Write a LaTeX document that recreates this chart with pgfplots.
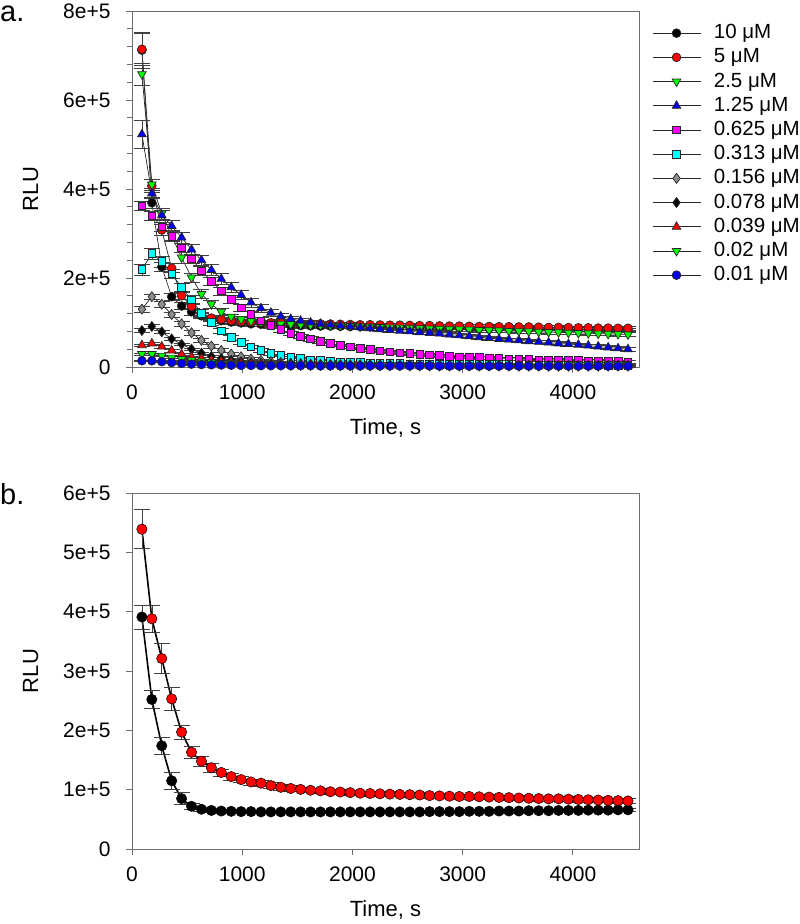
\documentclass[border=0pt]{standalone}
\usepackage{fontspec}
\setmainfont{Liberation Sans}
\usepackage{pgfplots}
\usepackage{pgfplotstable}
\pgfplotsset{compat=1.18}

\definecolor{cRed}{RGB}{255,0,0}
\definecolor{cGreen}{RGB}{0,255,0}
\definecolor{cBlue}{RGB}{0,0,240}
\definecolor{cMag}{RGB}{255,0,255}
\definecolor{cCyan}{RGB}{0,255,255}
\definecolor{cGray}{RGB}{140,140,140}
\definecolor{cFrame}{RGB}{110,110,110}

% panel a: values in units of 1000 RLU
\pgfplotstableread{
t a1 a2 a3 a4 a5 a6 a7 a8 a9 a10 a11 e1 e2 e3 e4 e5 e6 e7 e8 e9 e10 e11
90 712 714 658 523 362 219 130 82 49 29 14 40 35 25 32 10 12 6 4 3 2 2
180 369 407 410 390 340 255 158 91 53 29 14 12 15 12 12 10 12 6 4 3 2 2
270 225 308 345 341 315 237 141 79 46 25 12 10 12 12 12 10 12 6 4 3 2 2
360 158 222 295 317 294 209 118 63 37 21 10 8 10 12 12 10 10 6 4 3 2 2
450 137 160 246 291 268 179 97 51 29 18 8 8 8 12 12 10 10 5 3 2 2 2
540 124 136 201 264 243 151 77 40 23 15 6.5 7 7 10 12 10 9 5 3 2 2 2
630 115 118 164 240 216 121 60 31 19 12.5 5.5 6 6 10 12 10 8 5 3 2 2 2
720 108 110 141 218 193 100 47 24 15.5 10.5 5 6 6 8 12 9 7 4 3 2 2 2
810 104 107 124 198 171 81 37 19 13 9 4.5 5 5 7 12 9 6 4 2 2 2 2
900 101 104 113 179 152 66 29 15 11 8 4 5 5 6 12 8 5 4 2 2 2 2
990 99 102 107 162 133 55 23 12 9 7 3.5 5 5 6 11 8 5 3 2 1.5 2 2
1080 97 101 103 145 118 45 18 10 8 6 3.5 5 5 5 10 7 4 3 2 1.5 2 2
1170 96 100 100 132 104 37 15 8.5 7 5.5 3 5 5 5 9 7 4 3 2 1.5 2 2
1260 95 99.5 98 122 93 31 12 7 6 5 3 5 5 5 8 6 4 3 2 1.5 2 2
1350 94 99 97 114 84 26 10 6 5.5 4.5 3 5 5 5 7 6 3 3 2 1.5 2 2
1440 93.5 98.5 96 108 76 22 8.5 5.5 5 4 3 5 5 5 6 5 3 3 2 1.5 2 2
1530 93 98 95 104 69 19 7.5 5 4.5 4 3 5 5 5 6 5 3 3 2 1.5 2 2
1620 92.5 97.5 94 100 63 16.5 6.5 4.5 4.5 3.5 3 5 5 5 5 5 3 3 2 1.5 2 2
1710 92 97 93.5 97 58 14.5 6 4.5 4 3.5 2.5 5 5 5 5 4 3 3 2 1.5 2 2
1800 92 96.5 93 95 53 13 5.5 4 4 3.5 2.5 5 5 5 5 4 3 3 2 1.5 2 2
1890 91.5 96 92.5 93 49 12 5.5 4 4 3 2.5 4 4 4 4 3 2 2 2 1.5 2 2
1980 91 95.5 92 91 45 11 5 4 3.5 3 2.5 4 4 4 4 3 2 2 2 1.5 2 2
2070 91 95 91 89 42 10 5 4 3.5 3 2.5 4 4 4 4 3 2 2 2 1.5 2 2
2160 90.5 95 90.5 87 39 9.5 5 4 3.5 3 2.5 4 4 4 4 3 2 2 2 1.5 2 2
2250 90 94.5 90 85 36.5 9 5 3.5 3.5 3 2.5 4 4 4 4 3 2 2 2 1.5 2 2
2340 90 94 89 83 34 8.5 4.5 3.5 3.5 3 2.5 4 4 4 4 3 2 2 2 1.5 2 2
2430 89.5 94 88.5 81.5 32 8 4.5 3.5 3 3 2.5 4 4 4 4 3 2 2 2 1.5 2 2
2520 89.5 93.5 88 80 30 7.5 4.5 3.5 3 2.5 2.5 4 4 4 4 3 2 2 2 1.5 2 2
2610 89 93 87 78 28.5 7 4.5 3.5 3 2.5 2.5 4 4 4 4 3 2 2 2 1.5 2 2
2700 89 93 86.5 76.5 27 7 4.5 3.5 3 2.5 2.5 4 4 4 4 3 2 2 2 1.5 2 2
2790 88.5 92.5 86 75 25.5 6.5 4 3.5 3 2.5 2 4 4 4 4 3 2 2 2 1.5 2 2
2880 88.5 92 85 73 24 6.5 4 3.5 3 2.5 2 4 4 4 4 3 2 2 2 1.5 2 2
2970 88 92 84.5 71 23 6 4 3 3 2.5 2 4 4 4 4 3 2 2 2 1.5 2 2
3060 88 91.5 84 69 22 6 4 3 3 2.5 2 4 4 4 4 3 2 2 2 1.5 2 2
3150 87.5 91 83 67 21 6 4 3 3 2.5 2 4 4 4 4 3 2 2 2 1.5 2 2
3240 87.5 91 82.5 65 20 5.5 4 3 3 2.5 2 4 4 4 4 3 2 2 2 1.5 2 2
3330 87 90.5 82 63 19 5.5 4 3 3 2 2 4 4 4 4 3 2 2 2 1.5 2 2
3420 87 90.5 81 61.5 18.5 5.5 3.5 3 3 2 2 4 4 4 4 3 2 2 2 1.5 2 2
3510 86.5 90 80.5 60 18 5 3.5 3 2.5 2 2 4 4 4 4 3 2 2 2 1.5 2 2
3600 86.5 90 80 58 17 5 3.5 3 2.5 2 2 4 4 4 4 3 2 2 2 1.5 2 2
3690 86 89.5 79 56.5 16.5 5 3.5 3 2.5 2 2 4 4 4 4 3 2 2 2 1.5 2 2
3780 86 89 78.5 55 16 5 3.5 3 2.5 2 2 4 4 4 4 3 2 2 2 1.5 2 2
3870 85.5 89 78 53 15.5 4.5 3.5 3 2.5 2 2 4 4 4 4 3 2 2 2 1.5 2 2
3960 85.5 88.5 77 51.5 15 4.5 3.5 3 2.5 2 2 4 4 4 4 3 2 2 2 1.5 2 2
4050 85 88 76.5 50 14.5 4.5 3.5 3 2.5 2 2 4 4 4 4 3 2 2 2 1.5 2 2
4140 85 88 76 48 14 4.5 3.5 3 2.5 2 2 4 4 4 4 3 2 2 2 1.5 2 2
4230 85 87.5 75 46 13.5 4.5 3.5 3 2.5 2 2 4 4 4 4 3 2 2 2 1.5 2 2
4320 84.5 87.5 74.5 44 13 4 3.5 3 2.5 2 2 4 4 4 4 3 2 2 2 1.5 2 2
4410 84.5 87 74 42 12.5 4 3.5 3 2.5 2 2 4 4 4 4 3 2 2 2 1.5 2 2
4500 84 87 73 40 12 4 3.5 3 2.5 2 2 4 4 4 4 3 2 2 2 1.5 2 2
}\dataA

% panel b: values in units of 1000 RLU
\pgfplotstableread{
t b1 b2 e1 e2
90 391 539 20 33
180 252 388 15 22
270 174 321 15 25
360 115 253 15 20
450 85 197 10 12
540 72 163 5 10
630 67 148 4 8
720 65 137 3 7
810 64 129 3 6
900 63.5 122 3 6
990 63 117 3 5
1080 63 113 3 5
1170 62.5 111 3 5
1260 62.5 107 3 5
1350 62.5 104 3 5
1440 62.5 102 3 5
1530 62.5 100.5 3 4
1620 62.5 99 3 4
1710 62.5 98 3 4
1800 62.5 96.5 3 4
1890 62.5 96 3 4
1980 62.5 95 3 4
2070 62.5 94 3 4
2160 62.5 93.5 3 4
2250 62.5 93 3 4
2340 62.5 92.5 3 4
2430 62.5 92 3 4
2520 62.5 91.5 3 4
2610 62.5 91 3 4
2700 63 90 3 4
2790 63 89.5 3 4
2880 63 89 3 4
2970 63 88.5 3 4
3060 63.5 88.5 3 4
3150 63.5 88 3 4
3240 63.5 87.5 3 4
3330 64 87 3 4
3420 64 86.5 3 4
3510 64 86 3 4
3600 64.5 85.5 3 4
3690 64.5 85 3 4
3780 64.5 84.5 3 4
3870 65 84.5 3 4
3960 65 84 3 4
4050 65 83.5 3 4
4140 65.5 83 3 4
4230 65.5 82.5 3 4
4320 65.5 82 3 4
4410 66 81.5 3 4
4500 66 81 3 4
}\dataB

\pgfplotsset{
  myaxis/.style={
    scale only axis, width=507bp, height=356bp,
    xmin=0, xmax=4600,
    xtick={0,1000,2000,3000,4000},
    axis line style={cFrame, line width=0.9bp},
    tick style={cFrame, line width=0.8bp},
    tick align=outside,
    xtick pos=bottom, ytick pos=left,
    major tick length=6bp, minor tick length=5bp,
    /pgf/number format/assume math mode=true,
    /pgf/number format/1000 sep={},
    tick label style={font=\fontsize{21bp}{25bp}\selectfont},
    label style={font=\fontsize{22bp}{26bp}\selectfont},
    xlabel={Time, s}, ylabel={RLU},
    xlabel style={at={(axis description cs:0.5,-0.171)}, anchor=center},
    ylabel style={at={(axis description cs:-0.2,0.5)}, anchor=center, rotate=0},
    yticklabel style={xshift=-12bp},
    xticklabel style={yshift=-8bp},
    clip=false,
    error bars/y dir=both, error bars/y explicit,
    error bars/error bar style={line width=0.6bp, black!75},
    error bars/error mark options={rotate=90, mark size=8bp, line width=0.6bp, black!75},
  },
  ser/.style={black!85, line width=0.7bp, mark options={draw=black, line width=0.45bp}},
}

\begin{document}
\begin{tikzpicture}
\useasboundingbox (0,0) rectangle (800bp,924bp);
\node[anchor=base west, inner sep=0, font=\fontsize{29bp}{32bp}\selectfont] at (0bp,902bp) {a.};
\node[anchor=base west, inner sep=0, font=\fontsize{29bp}{32bp}\selectfont] at (0bp,419bp) {b.};

\begin{axis}[myaxis,
  at={(132bp,557bp)}, anchor=south west,
  ymin=0, ymax=800,
  ytick={0,200,400,600,800},
  yticklabels={0,2e+5,4e+5,6e+5,8e+5},
  minor y tick num=4,
  legend style={at={(axis description cs:1.0256,0.965)}, anchor=north west,
    draw=none, fill=none, inner sep=0pt, row sep=5.2bp, column sep=13bp,
    font=\fontsize{20.5bp}{24bp}\selectfont,
    nodes={inner sep=0pt, text height=15bp, text depth=4bp}},
  legend cell align=left,
  legend image code/.code={
    \draw[mark repeat=2, mark phase=2, #1] plot coordinates {(0bp,0bp) (24bp,0bp) (48bp,0bp)};},
]
\addplot[ser, mark=*, mark size=4.4bp, mark options={fill=black}] table[x=t, y=a1, y error=e1] {\dataA};
\addlegendentry{10 μM}
\addplot[ser, mark=*, mark size=4.4bp, mark options={fill=cRed}] table[x=t, y=a2, y error=e2] {\dataA};
\addlegendentry{5 μM}
\addplot[ser, mark=triangle*, mark size=5bp, mark options={fill=cGreen, rotate=180}] table[x=t, y=a3, y error=e3] {\dataA};
\addlegendentry{2.5 μM}
\addplot[ser, mark=triangle*, mark size=5bp, mark options={fill=cBlue}] table[x=t, y=a4, y error=e4] {\dataA};
\addlegendentry{1.25 μM}
\addplot[ser, mark=square*, mark size=3.8bp, mark options={fill=cMag}] table[x=t, y=a5, y error=e5] {\dataA};
\addlegendentry{0.625 μM}
\addplot[ser, mark=square*, mark size=3.8bp, mark options={fill=cCyan}] table[x=t, y=a6, y error=e6] {\dataA};
\addlegendentry{0.313 μM}
\addplot[ser, mark=diamond*, mark size=5bp, mark options={fill=cGray}] table[x=t, y=a7, y error=e7] {\dataA};
\addlegendentry{0.156 μM}
\addplot[ser, mark=diamond*, mark size=5bp, mark options={fill=black}] table[x=t, y=a8, y error=e8] {\dataA};
\addlegendentry{0.078 μM}
\addplot[ser, mark=triangle*, mark size=5bp, mark options={fill=cRed}] table[x=t, y=a9, y error=e9] {\dataA};
\addlegendentry{0.039 μM}
\addplot[ser, mark=triangle*, mark size=5bp, mark options={fill=cGreen, rotate=180}] table[x=t, y=a10, y error=e10] {\dataA};
\addlegendentry{0.02 μM}
\addplot[ser, mark=*, mark size=4.4bp, mark options={fill=cBlue}] table[x=t, y=a11, y error=e11] {\dataA};
\addlegendentry{0.01 μM}
\end{axis}

\begin{axis}[myaxis,
  at={(132bp,75bp)}, anchor=south west,
  ymin=0, ymax=600,
  ytick={0,100,200,300,400,500,600},
  yticklabels={0,1e+5,2e+5,3e+5,4e+5,5e+5,6e+5},
]
\addplot[black, line width=1.6bp, mark=*, mark size=5.2bp, mark options={fill=black, draw=black, line width=0.5bp}] table[x=t, y=b1, y error=e1] {\dataB};
\addplot[black, line width=1.6bp, mark=*, mark size=5.2bp, mark options={fill=cRed, draw=black, line width=0.5bp}] table[x=t, y=b2, y error=e2] {\dataB};
\end{axis}
\end{tikzpicture}
\end{document}
